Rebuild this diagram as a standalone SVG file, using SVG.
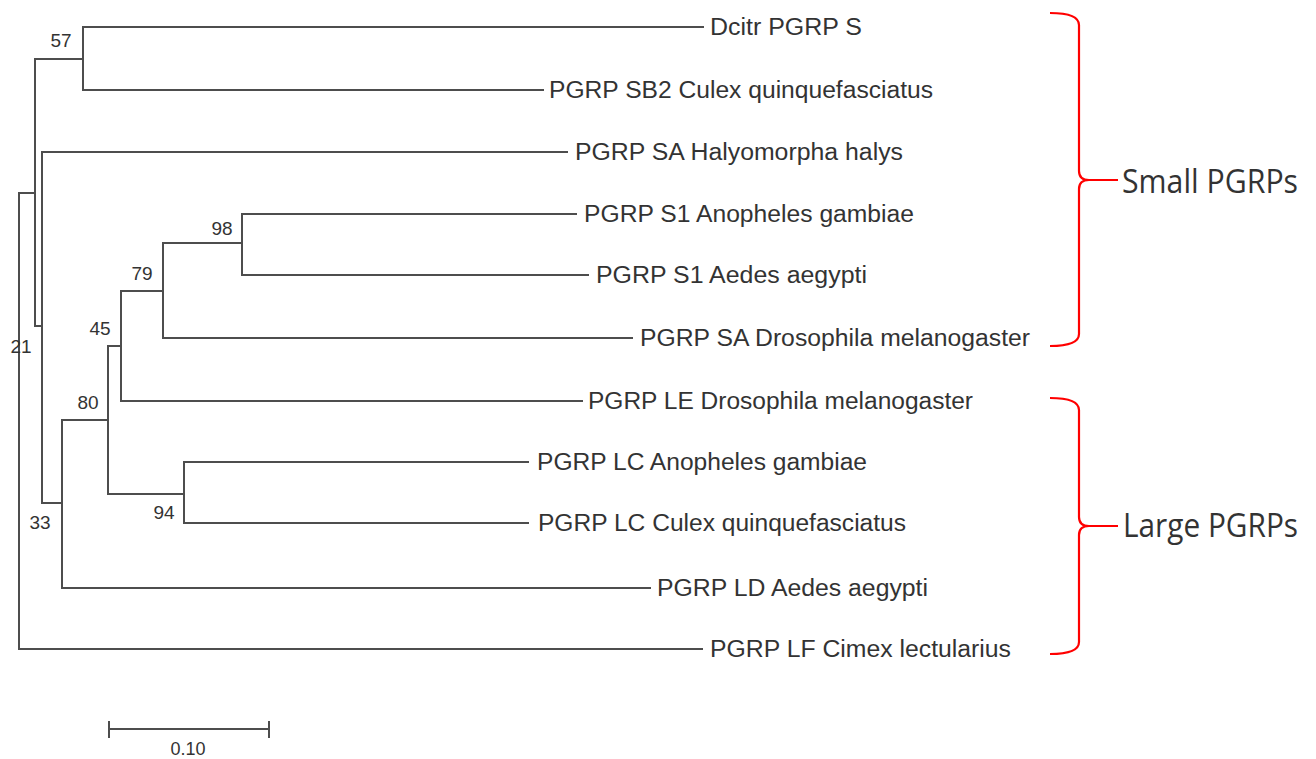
<svg xmlns="http://www.w3.org/2000/svg" width="1316" height="759" viewBox="0 0 1316 759">
<style>
.br{fill:none;stroke:#4d4d4d;stroke-width:2;stroke-linecap:square}
.lf{font-family:"Liberation Sans",Arial,sans-serif;font-size:23px;fill:#333}
.bs{font-family:"Liberation Sans",Arial,sans-serif;font-size:19px;fill:#333;text-anchor:middle}
.brace{fill:none;stroke:#ff0000;stroke-width:2.2}
.grp{font-family:"Open Sans","Noto Sans",sans-serif;font-size:32px;fill:#333}
</style>
<rect width="1316" height="759" fill="#ffffff"/>
<g id="connectors">
<path class="br" d="M19,193 V649 M19,193 H35 M35,59 V326 M35,59 H83 M83,27 V90 M35,326 H42 M42,152 V503 M42,503 H62 M62,420 V588 M62,420 H108 M108,346 V494 M108,346 H121 M121,291 V401 M121,291 H163 M163,243 V338 M163,243 H242 M242,214 V275 M108,494 H184 M184,462 V523"/>
<path class="br" d="M83,27 H703 M83,90 H543 M42,152 H567 M242,214 H576 M242,275 H588 M163,338 H632 M121,401 H582 M184,462 H528 M184,523 H528 M62,588 H650 M19,649 H702"/>
</g>
<g id="bootstrap">
<text class="bs" x="61" y="47">57</text>
<text class="bs" x="222" y="235">98</text>
<text class="bs" x="142" y="280">79</text>
<text class="bs" x="100" y="335">45</text>
<text class="bs" x="21" y="353">21</text>
<text class="bs" x="88" y="409">80</text>
<text class="bs" x="164" y="519">94</text>
<text class="bs" x="40" y="529">33</text>
</g>
<g id="leaf-dcitr"><text class="lf" x="710" y="35" textLength="152" lengthAdjust="spacingAndGlyphs">Dcitr PGRP S</text></g>
<g id="leaf-sb2-culex"><text class="lf" x="549" y="98" textLength="384" lengthAdjust="spacingAndGlyphs">PGRP SB2 Culex quinquefasciatus</text></g>
<g id="leaf-sa-halyomorpha"><text class="lf" x="575" y="160" textLength="328" lengthAdjust="spacingAndGlyphs">PGRP SA Halyomorpha halys</text></g>
<g id="leaf-s1-anopheles"><text class="lf" x="584" y="222" textLength="330" lengthAdjust="spacingAndGlyphs">PGRP S1 Anopheles gambiae</text></g>
<g id="leaf-s1-aedes"><text class="lf" x="596" y="283" textLength="271" lengthAdjust="spacingAndGlyphs">PGRP S1 Aedes aegypti</text></g>
<g id="leaf-sa-drosophila"><text class="lf" x="640" y="346" textLength="390" lengthAdjust="spacingAndGlyphs">PGRP SA Drosophila melanogaster</text></g>
<g id="leaf-le-drosophila"><text class="lf" x="588" y="409" textLength="385" lengthAdjust="spacingAndGlyphs">PGRP LE Drosophila melanogaster</text></g>
<g id="leaf-lc-anopheles"><text class="lf" x="537" y="470" textLength="330" lengthAdjust="spacingAndGlyphs">PGRP LC Anopheles gambiae</text></g>
<g id="leaf-lc-culex"><text class="lf" x="538" y="531" textLength="368" lengthAdjust="spacingAndGlyphs">PGRP LC Culex quinquefasciatus</text></g>
<g id="leaf-ld-aedes"><text class="lf" x="657" y="596" textLength="271" lengthAdjust="spacingAndGlyphs">PGRP LD Aedes aegypti</text></g>
<g id="leaf-lf-cimex"><text class="lf" x="710" y="657" textLength="301" lengthAdjust="spacingAndGlyphs">PGRP LF Cimex lectularius</text></g>
<g id="small-pgrps">
<path class="brace" d="M1050,13 Q1079,13 1079,25 L1079,171 Q1079,180 1089,180 L1118,180 M1089,180 Q1079,180 1079,189 L1079,334 Q1079,346 1050,346"/>
<text class="grp" x="1122" y="193" textLength="176" lengthAdjust="spacingAndGlyphs">Small PGRPs</text>
</g>
<g id="large-pgrps">
<path class="brace" d="M1050,398 Q1079,398 1079,410 L1079,517 Q1079,526 1089,526 L1118,526 M1089,526 Q1079,526 1079,535 L1079,642 Q1079,654 1050,654"/>
<text class="grp" x="1123" y="537" textLength="175" lengthAdjust="spacingAndGlyphs">Large PGRPs</text>
</g>
<g id="scale-bar">
<path class="br" d="M109,729 H269 M109,722 V737 M269,722 V737"/>
<text class="bs" x="188" y="755" style="font-size:18px">0.10</text>
</g>
</svg>
